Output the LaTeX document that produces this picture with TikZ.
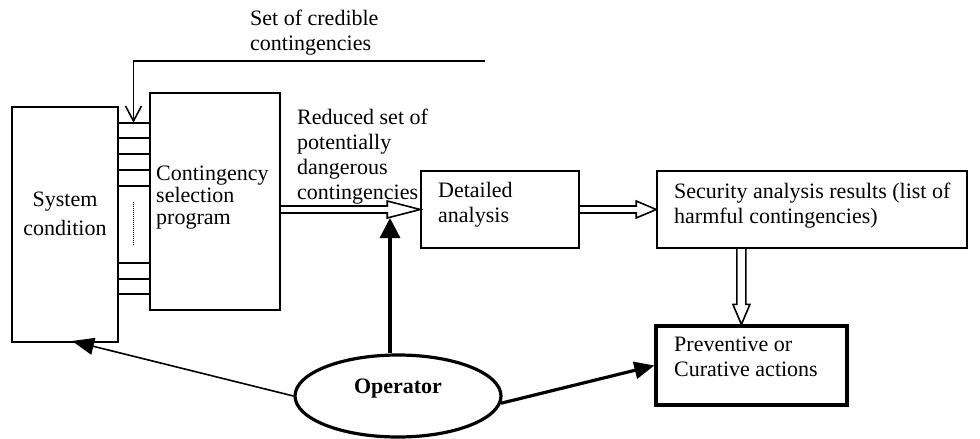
\documentclass[tikz,border=0pt]{standalone}
\usepackage{fontspec}
\setmainfont{Liberation Serif}
\usetikzlibrary{arrows.meta,shapes.geometric,calc}
\newcommand\hollowH[3]{\draw[thinln, line join=miter] let \p1=(#1), \p2=(#2) in
  (\x1,\y2+3.5pt) -- (\x2-#3,\y2+3.5pt) -- (\x2-#3,\y2+8.5pt) -- (\x2,\y2)
  -- (\x2-#3,\y2-8.5pt) -- (\x2-#3,\y2-3.5pt) -- (\x1,\y2-3.5pt);}
\newcommand\hollowV[3]{\draw[thinln, line join=miter] let \p1=(#1), \p2=(#2) in
  (\x2-4.5pt,\y1) -- (\x2-4.5pt,\y2+#3) -- (\x2-8.5pt,\y2+#3) -- (\x2,\y2)
  -- (\x2+8.5pt,\y2+#3) -- (\x2+4.5pt,\y2+#3) -- (\x2+4.5pt,\y1);}
\begin{document}
\begin{tikzpicture}[x=1pt,y=-1pt,
  thinln/.style={line width=1.6pt},
  thickln/.style={line width=3.2pt},
  box/.style={draw, thinln, inner sep=0pt},
  lbl/.style={inner sep=0pt, font=\fontsize{22}{25}\selectfont, align=left, anchor=north west}]
\useasboundingbox (0,0) rectangle (980,439);
% boxes
\node[box, minimum width=106pt, minimum height=235pt] (SC) at (65,224.5) {};
\node[box, minimum width=130pt, minimum height=217pt] (CSP) at (215,201.5) {};
\node[box, minimum width=158pt, minimum height=77pt] (DA) at (500,209.5) {};
\node[box, minimum width=310pt, minimum height=77pt] (Sec) at (812,209.5) {};
\node[box, thickln, minimum width=191pt, minimum height=79pt] (Prev) at (751.5,365.5) {};
\node[draw, thickln, ellipse, minimum width=206pt, minimum height=82pt, inner sep=0pt] (Op) at (398,396) {};
% labels
\node[lbl] (tcred) at (250,10) {Set of credible\\contingencies};
\node[lbl] (tred) at (297,109) {Reduced set of\\potentially\\dangerous\\contingencies};
\node[lbl, font=\fontsize{22}{22}\selectfont] (tcsp) at (156,166) {Contingency\\selection\\program};
\node[lbl, align=center, anchor=north, font=\fontsize{22}{29}\selectfont] (tsc) at (65,192) {System\\condition};
\node[lbl] (tda) at (438,182) {Detailed\\analysis};
\node[lbl] (tsec) at (674,183) {Security analysis results (list of\\harmful contingencies)};
\node[lbl] (tprev) at (674,337) {Preventive or\\Curative actions};
\node[inner sep=0pt, anchor=base, font=\fontsize{22}{25}\selectfont\bfseries] (top) at (398,393) {Operator};
% credible contingencies input
\coordinate (credstart) at (485,61);
\coordinate (cin) at (133.5,122.7);
\draw[thinln, -{Straight Barb[length=15pt,width=16pt]}] (credstart) -| (cin);
% ticks between system condition and selection program
\foreach \yy in {122.7,138,154,170,186,263,279,294} {
  \coordinate (t) at (0,\yy);
  \draw[thinln] (SC.east |- t) -- (CSP.west |- t);
}
\coordinate (d1) at (133.5,202);
\coordinate (d2) at (133.5,245);
\draw[line width=1pt, dash pattern=on 1pt off 1pt] (d1) -- (d2);
% hollow arrows
\hollowH{CSP.east}{DA.west}{33pt}
\hollowH{DA.east}{Sec.west}{20pt}
\coordinate (vin) at ($(Prev.north west)+(87,0)$);
\hollowV{Sec.south}{vin}{20pt}
% operator arrows
\coordinate (optip) at (390,218);
\draw[thickln, -{Triangle[length=20pt,width=20pt]}] (Op.north -| optip) -- (optip);
\coordinate (sctip) at (72,341);
\draw[thinln, -{Triangle[length=22pt,width=17pt]}] (Op.west) -- (sctip);
\draw[thickln, -{Triangle[length=20pt,width=17pt]}] (Op.-4) -- (Prev.west);
\end{tikzpicture}
\end{document}
